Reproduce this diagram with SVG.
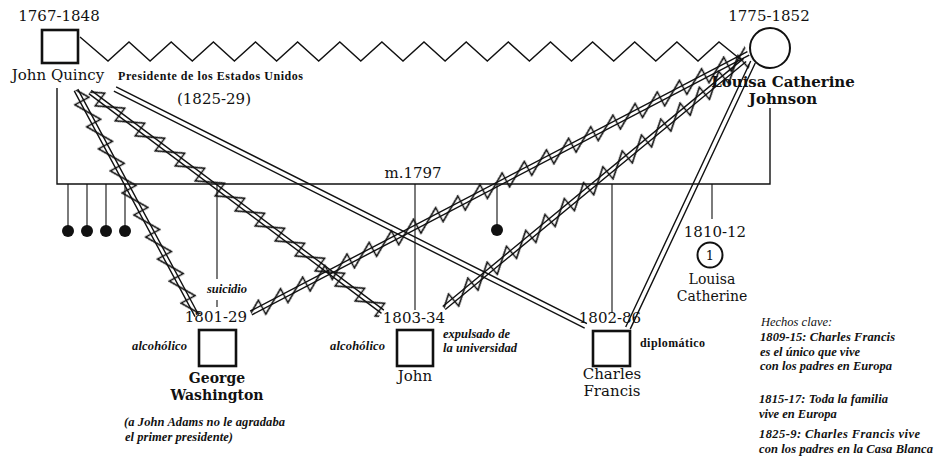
<svg xmlns="http://www.w3.org/2000/svg" width="934" height="464" viewBox="0 0 934 464">
<defs>
<pattern id="saw" patternUnits="userSpaceOnUse" x="0" y="-9" width="25" height="18">
<path d="M-12.5,17 L12.5,1 L12.5,17 L37.5,1" fill="none" stroke="#111" stroke-width="1.5"/>
</pattern>
</defs>
<style>
.ln{stroke:#111;stroke-width:1.4;fill:none}
.thin{stroke:#111;stroke-width:1.1;fill:none}
.sq{fill:#fff;stroke:#111;stroke-width:2.6}
.ci{fill:#fff;stroke:#111;stroke-width:2}
.dot{fill:#111}
.t{font-family:"DejaVu Serif",serif;font-size:15px;fill:#111}
.s{font-size:14px}
.b{font-weight:bold}
.n{font-family:"Liberation Serif",serif;font-style:italic;font-weight:bold;font-size:12.5px;fill:#111}
.p{font-family:"Liberation Serif",serif;font-weight:bold;font-size:12px;fill:#111}
.k{font-family:"Liberation Serif",serif;font-style:italic;font-size:12.5px;fill:#111}
.m{text-anchor:middle}
</style>
<rect width="934" height="464" fill="#fff"/>
<g id="connectors">
<polyline class="ln" points="80,37 108,61 129,42 150.1,61 171.2,42 192.3,61 213.4,42 234.4,61 255.5,42 276.6,61 297.6,42 318.7,61 339.8,42 360.8,61 381.9,42 403,61 424,42 445.1,61 466.2,42 487.3,61 508.3,42 529.4,61 550.5,42 571.5,61 592.6,42 613.7,61 634.7,42 655.8,61 676.9,42 698,61 719,42 740,59"/>
<path class="ln" d="M57,88V184H770V108"/>
<path class="thin" d="M68,184V226M87,184V226M106,184V226M125,184V226M497,184V225"/>
<path class="thin" d="M217,184V279M217,300V307M415,184V310M612,184V313M712,184V219"/>
<g transform="translate(76,90) rotate(61.84)"><rect x="0" y="-9" width="256" height="18" fill="url(#saw)"/><path class="ln" d="M0,-2H256M0,2H256"/></g>
<g transform="translate(90,92) rotate(36.9)"><rect x="0" y="-9" width="366" height="18" fill="url(#saw)"/><path class="ln" d="M0,-2H366M0,2H366"/></g>
<g transform="translate(251,313) rotate(-27.57)"><rect x="0" y="-9" width="561" height="18" fill="url(#saw)"/><path class="ln" d="M0,-2H561M0,2H561"/></g>
<g transform="translate(444,308) rotate(-39.5)"><rect x="0" y="-9" width="390" height="18" fill="url(#saw)"/><path class="ln" d="M0,-2H390M0,2H390"/></g>
<g transform="translate(115,89) rotate(26.7)"><path class="ln" d="M0,-2.5H527M0,2.5H527"/></g>
<g transform="translate(753,62) rotate(115.17)"><path class="ln" d="M0,-2.5H294M0,2.5H294"/></g>
</g>
<g id="john-quincy">
<rect class="sq" x="42" y="30" width="36" height="33"/>
<text class="t m" x="59" y="21">1767-1848</text>
<text class="t m" x="58" y="80">John Quincy</text>
<text class="p" x="118" y="80" textLength="185">Presidente de los Estados Unidos</text>
<text class="t m" x="214" y="104">(1825-29)</text>
</g>
<g id="louisa-catherine-johnson">
<circle class="ci" cx="770" cy="48" r="20"/>
<text class="t m" x="769" y="21">1775-1852</text>
<text class="t b m" x="783" y="87">Louisa Catherine</text>
<text class="t b m" x="783" y="104">Johnson</text>
</g>
<g id="marriage">
<text class="t m" x="413" y="178">m.1797</text>
</g>
<g id="deaths">
<circle class="dot" cx="68" cy="231" r="6"/>
<circle class="dot" cx="87" cy="231" r="6"/>
<circle class="dot" cx="106" cy="231" r="6"/>
<circle class="dot" cx="125" cy="231" r="6"/>
<circle class="dot" cx="497" cy="230" r="6"/>
</g>
<g id="george-washington">
<rect class="sq" x="199" y="330" width="37" height="36"/>
<text class="n" x="207" y="293" textLength="40">suicidio</text>
<text class="t m" x="216" y="322">1801-29</text>
<text class="n" x="132" y="350" textLength="55">alcohólico</text>
<text class="t s b m" x="217" y="383">George</text>
<text class="t s b m" x="217" y="400">Washington</text>
<text class="n" x="124" y="426" textLength="161">(a John Adams no le agradaba</text>
<text class="n" x="125" y="441" textLength="108">el primer presidente)</text>
</g>
<g id="john">
<rect class="sq" x="397" y="330" width="36" height="36"/>
<text class="t m" x="414" y="323">1803-34</text>
<text class="n" x="330" y="350" textLength="55">alcohólico</text>
<text class="n" x="443" y="338" textLength="67">expulsado de</text>
<text class="n" x="443" y="352" textLength="74">la universidad</text>
<text class="t m" x="415" y="381">John</text>
</g>
<g id="charles-francis">
<rect class="sq" x="593" y="331" width="37" height="35"/>
<text class="t m" x="610" y="323">1802-86</text>
<text class="p" x="640" y="347" textLength="65">diplomático</text>
<text class="t m" x="612" y="379">Charles</text>
<text class="t m" x="612" y="396">Francis</text>
</g>
<g id="louisa-catherine">
<circle class="ci" cx="710" cy="255" r="12.5"/>
<text class="t m" x="715" y="237">1810-12</text>
<text class="t m" x="710" y="260" style="font-size:13px">1</text>
<text class="t s m" x="712" y="284">Louisa</text>
<text class="t s m" x="712" y="301">Catherine</text>
</g>
<g id="hechos-clave">
<text class="k" x="761" y="326">Hechos clave:</text>
<text class="n" x="760" y="341" textLength="135">1809-15: Charles Francis</text>
<text class="n" x="760" y="356" textLength="100">es el único que vive</text>
<text class="n" x="760" y="370" textLength="132">con los padres en Europa</text>
<text class="n" x="759" y="403" textLength="129">1815-17: Toda la familia</text>
<text class="n" x="759" y="418">vive en Europa</text>
<text class="n" x="759" y="438" textLength="161">1825-9: Charles Francis vive</text>
<text class="n" x="759" y="453" textLength="174">con los padres en la Casa Blanca</text>
</g>
</svg>
